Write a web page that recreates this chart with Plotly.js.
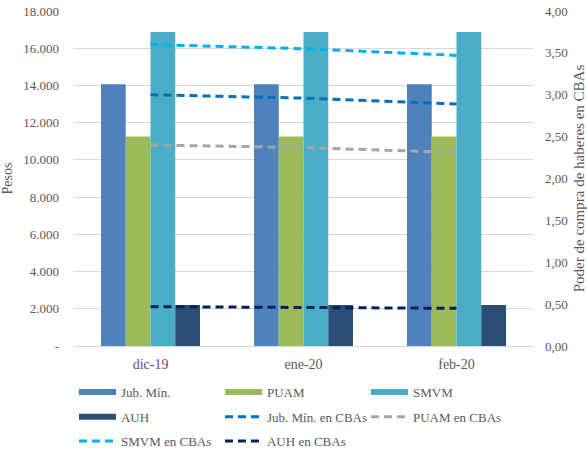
<!DOCTYPE html>
<html>
<head>
<meta charset="utf-8">
<script src="https://cdn.plot.ly/plotly-3.0.1.min.js"></script>
<style>
  html, body { margin: 0; padding: 0; background: #fff; }
  #chart { width: 587px; height: 458px; }
</style>
</head>
<body>
<div id="chart"></div>
<script>
// Meses
const months = ['dic-19', 'ene-20', 'feb-20'];

// Haberes en pesos
const jubMin = [14068, 14068, 14068];
const puam   = [11254, 11254, 11254];
const smvm   = [16875, 16875, 16875];
const auh    = [2197, 2197, 2197];

// Poder de compra medido en canastas básicas alimentarias (CBAs)
const jubMinCBA = [3.00, 2.96, 2.89];
const puamCBA   = [2.40, 2.37, 2.31];
const smvmCBA   = [3.60, 3.55, 3.47];
const auhCBA    = [0.47, 0.46, 0.45];

// Marcas de los ejes
const pesosTicks = [0, 2000, 4000, 6000, 8000, 10000, 12000, 14000, 16000, 18000];
const pesosLabels = ['-', '2.000', '4.000', '6.000', '8.000', '10.000', '12.000', '14.000', '16.000', '18.000'];
const cbaTicks = [0, 0.5, 1, 1.5, 2, 2.5, 3, 3.5, 4];
const cbaLabels = ['0,00', '0,50', '1,00', '1,50', '2,00', '2,50', '3,00', '3,50', '4,00'];

const FONT = 'Liberation Serif, DejaVu Serif, serif';
const GREY = '#595959';
const GRID = '#d9d9d9';

const COLORS = {
  jub: '#4f81bd', puam: '#9bbb59', smvm: '#4bacc6', auh: '#2c4d75',
  jubL: '#0070c0', puamL: '#a6a6a6', smvmL: '#00b0f0', auhL: '#002060'
};

// Barras (su leyenda se dibuja con trazos anchos, al estilo de Excel)
function bar(name, y, color) {
  return { type: 'bar', name: name, x: months, y: y, yaxis: 'y',
           marker: { color: color }, showlegend: false };
}
// Entrada de leyenda para una serie de barras: trazo grueso sin puntos
function barKey(name, color, legend) {
  return { type: 'scatter', mode: 'lines', name: name, x: [null], y: [null],
           line: { color: color, width: 6 }, legend: legend, hoverinfo: 'skip' };
}
function line(name, y, color, legend) {
  return { type: 'scatter', mode: 'lines', name: name, x: months, y: y, yaxis: 'y2',
           line: { color: color, width: 3, dash: '8px,5px' }, legend: legend };
}

const data = [
  bar('Jub. Mín.', jubMin, COLORS.jub),
  bar('PUAM', puam, COLORS.puam),
  bar('SMVM', smvm, COLORS.smvm),
  bar('AUH', auh, COLORS.auh),
  barKey('Jub. Mín.', COLORS.jub, 'legend'),
  barKey('PUAM', COLORS.puam, 'legend'),
  barKey('SMVM', COLORS.smvm, 'legend'),
  barKey('AUH', COLORS.auh, 'legend2'),
  line('Jub. Mín. en CBAs', jubMinCBA, COLORS.jubL, 'legend2'),
  line('PUAM en CBAs', puamCBA, COLORS.puamL, 'legend2'),
  line('SMVM en CBAs', smvmCBA, COLORS.smvmL, 'legend3'),
  line('AUH en CBAs', auhCBA, COLORS.auhL, 'legend3')
];

// Una fila de la leyenda por cada objeto legend
function legendRow(y) {
  return {
    orientation: 'h', xref: 'container', x: 0.126, xanchor: 'left',
    yref: 'container', y: y, yanchor: 'middle',
    entrywidth: 94, itemwidth: 37, traceorder: 'normal',
    font: { family: FONT, size: 13, color: GREY }, bgcolor: 'rgba(0,0,0,0)'
  };
}

const layout = {
  width: 587, height: 458,
  margin: { l: 74, r: 54, t: 11, b: 112 },
  paper_bgcolor: '#fff', plot_bgcolor: '#fff',
  font: { family: FONT, size: 13, color: GREY },
  barmode: 'group', bargap: 0.353, bargroupgap: 0,
  showlegend: true,
  legend: legendRow(0.144),
  legend2: legendRow(0.090),
  legend3: legendRow(0.037),
  xaxis: {
    type: 'category', showgrid: false, zeroline: false,
    showline: true, linecolor: GRID, linewidth: 1, ticks: '',
    ticklabelstandoff: 5,
    tickfont: { family: FONT, size: 14, color: GREY }, automargin: false
  },
  yaxis: {
    range: [0, 18000], tickvals: pesosTicks, ticktext: pesosLabels,
    showgrid: true, gridcolor: GRID, gridwidth: 1, zeroline: false,
    ticks: '', ticklabelstandoff: 14, automargin: false,
    tickfont: { family: FONT, size: 13, color: GREY },
    title: { text: 'Pesos', font: { family: FONT, size: 14, color: GREY }, standoff: 11 }
  },
  yaxis2: {
    overlaying: 'y', side: 'right', range: [0, 4],
    tickvals: cbaTicks, ticktext: cbaLabels,
    showgrid: false, zeroline: false, ticks: '', ticklabelstandoff: 11, automargin: false,
    tickfont: { family: FONT, size: 13, color: GREY },
    title: { text: 'Poder de compra de haberes en CBAs', font: { family: FONT, size: 15, color: GREY }, standoff: 18 }
  }
};

Plotly.newPlot('chart', data, layout, { displayModeBar: false, staticPlot: true });
</script>
</body>
</html>
